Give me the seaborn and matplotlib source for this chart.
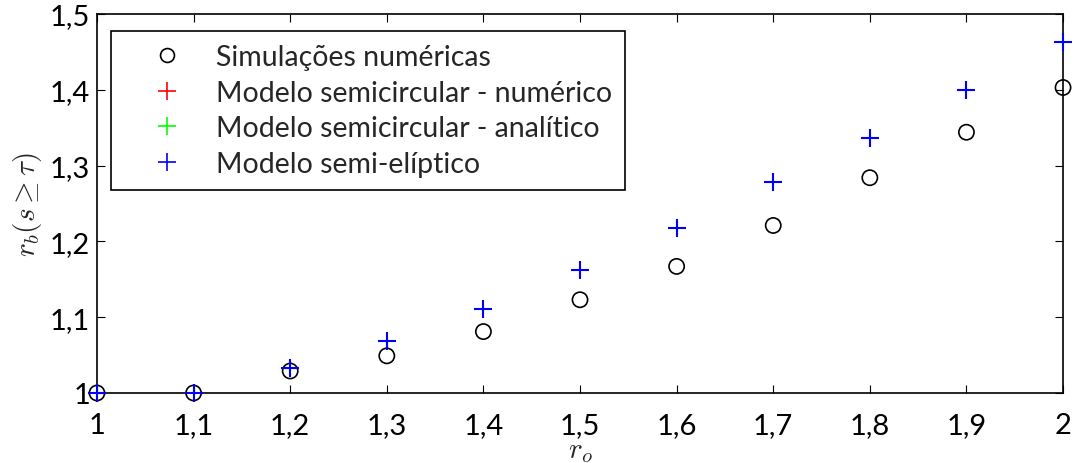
import numpy as np
import matplotlib
matplotlib.use("Agg")
import matplotlib.pyplot as plt
import seaborn as sns
from matplotlib.ticker import FuncFormatter
from matplotlib.lines import Line2D

sns.set_theme(style="white")
plt.rcParams['font.family'] = ['Lato', 'DejaVu Sans']
plt.rcParams['mathtext.fontset'] = 'cm'

r_o = [1.0, 1.1, 1.2, 1.3, 1.4, 1.5, 1.6, 1.7, 1.8, 1.9, 2.0]
sim_numericas = [1.0, 1.0, 1.029, 1.049, 1.081, 1.123, 1.167, 1.221, 1.284, 1.344, 1.403]
semicirc_numerico = [1.0, 1.0, 1.033, 1.069, 1.111, 1.162, 1.217, 1.278, 1.336, 1.400, 1.463]
semicirc_analitico = [1.0, 1.0, 1.033, 1.069, 1.111, 1.162, 1.217, 1.278, 1.336, 1.400, 1.463]
semi_eliptico = [1.0, 1.0, 1.033, 1.069, 1.111, 1.162, 1.217, 1.278, 1.336, 1.400, 1.463]

labels = ["Simulações numéricas",
          "Modelo semicircular - numérico",
          "Modelo semicircular - analítico",
          "Modelo semi-elíptico"]
colors = ['black', '#ff0000', '#00ff00', '#0000ff']

fig = plt.figure(figsize=(10.74, 4.64), dpi=100)
ax = fig.add_axes([0.0903, 0.1509, 0.8995, 0.8168])

sns.scatterplot(x=r_o, y=sim_numericas, ax=ax, marker='o', s=120,
                facecolors='none', edgecolor='black', linewidth=1.2, clip_on=False, zorder=3)
sns.scatterplot(x=r_o, y=semicirc_numerico, ax=ax, marker='+', s=160,
                color=colors[1], linewidth=1.3, clip_on=False, zorder=4)
sns.scatterplot(x=r_o, y=semicirc_analitico, ax=ax, marker='+', s=160,
                color=colors[2], linewidth=1.3, clip_on=False, zorder=5)
sns.scatterplot(x=r_o, y=semi_eliptico, ax=ax, marker='+', s=160,
                color=colors[3], linewidth=1.5, clip_on=False, zorder=6)

ax.set_xlim(1, 2)
ax.set_ylim(1, 1.5)
ax.set_xticks(np.arange(1.0, 2.01, 0.1))
ax.set_yticks(np.arange(1.0, 1.51, 0.1))
fmt = FuncFormatter(lambda v, p: ("%g" % round(v, 1)).replace('.', ','))
ax.xaxis.set_major_formatter(fmt)
ax.yaxis.set_major_formatter(fmt)
ax.tick_params(axis='both', direction='in', length=6, width=0.8, labelsize=21,
               top=True, right=True, bottom=True, left=True, colors='black', pad=5)
ax.tick_params(axis='x', pad=14)
for s in ax.spines.values():
    s.set_color('black')
    s.set_linewidth(1.2)

ax.set_xlabel(r'$r_o$', fontsize=21, labelpad=0)
ax.set_ylabel(r'$r_b(s \geq \tau)$', fontsize=21, labelpad=4)

handles = [
    Line2D([], [], linestyle='', marker='o', markersize=10, markerfacecolor='none',
           markeredgecolor='black', markeredgewidth=1.2),
    Line2D([], [], linestyle='', marker='+', markersize=13, color=colors[1], markeredgewidth=1.2),
    Line2D([], [], linestyle='', marker='+', markersize=13, color=colors[2], markeredgewidth=1.2),
    Line2D([], [], linestyle='', marker='+', markersize=13, color=colors[3], markeredgewidth=1.2),
]
leg = ax.legend(handles, labels, loc='upper left', bbox_to_anchor=(0.0145, 0.955), fontsize=20.5,
                frameon=True, fancybox=False, edgecolor='black', framealpha=1,
                handlelength=3.0, handletextpad=0.25, borderpad=0.45, labelspacing=0.34,
                borderaxespad=0)
leg.get_frame().set_linewidth(1.2)

fig.savefig("out.png", dpi=100)
